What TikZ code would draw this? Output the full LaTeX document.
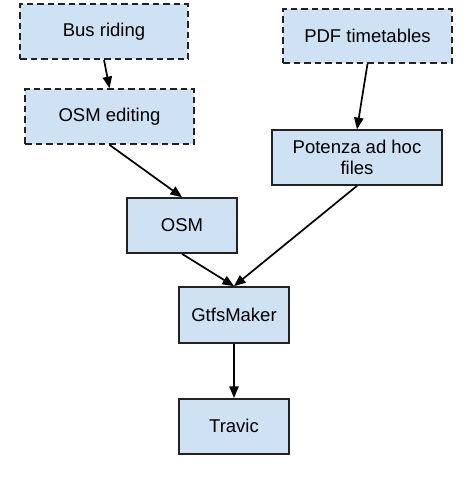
\documentclass[tikz,border=0pt]{standalone}
\usepackage{fontspec}
\setmainfont{Liberation Sans}
\usetikzlibrary{positioning}
\usetikzlibrary{arrows}
\definecolor{boxfill}{HTML}{CFE2F3}
\definecolor{boxline}{HTML}{222222}
\tikzset{
  box/.style={draw=boxline,fill=boxfill,line width=1.7pt,inner sep=0pt,
    minimum height=55pt,align=center,font=\fontsize{18.5}{20.5}\selectfont},
  dashbox/.style={box,dash pattern=on 6.5pt off 4pt},
}
\begin{document}
\begin{tikzpicture}[x=1pt,y=-1pt,>=triangle 45]
      \useasboundingbox (0,0) rectangle (473,491);
      \node (Bus) [box,dashbox,minimum width=168pt] at (104,31.5) {Bus riding};
      \node (Edit) [box,dashbox,minimum width=169pt] at (109.5,116.5) {OSM editing};
      \node (PDF) [box,dashbox,minimum width=169pt,minimum height=54pt] at (367.5,36) {PDF timetables};
      \node (Potenza) [box,minimum width=170pt] at (357,157.5) {Potenza ad hoc\\files};
      \node (OSM) [box,minimum width=110pt] at (182,225.5) {OSM};
      \node (Gtfs) [box,minimum width=110pt,minimum height=56pt] at (234,315) {GtfsMaker};
      \node (Travic) [box,minimum width=110pt,below=54pt of Gtfs] {Travic};% same column as GtfsMaker
      \draw [line width=1.7pt,->] (Bus.south) -- (Edit.north);
      \draw [line width=1.7pt,->] (Edit.south) -- (OSM.north);
      \draw [line width=1.7pt,->] (PDF.south) -- (Potenza.north);
      \draw [line width=1.7pt,->] (OSM.south) -- (Gtfs.north);
      \draw [line width=1.7pt,->] (Potenza.south) -- (Gtfs.north);
      \draw [line width=1.7pt,->] (Gtfs.south) -- (Travic.north);
    \end{tikzpicture}
\end{document}
